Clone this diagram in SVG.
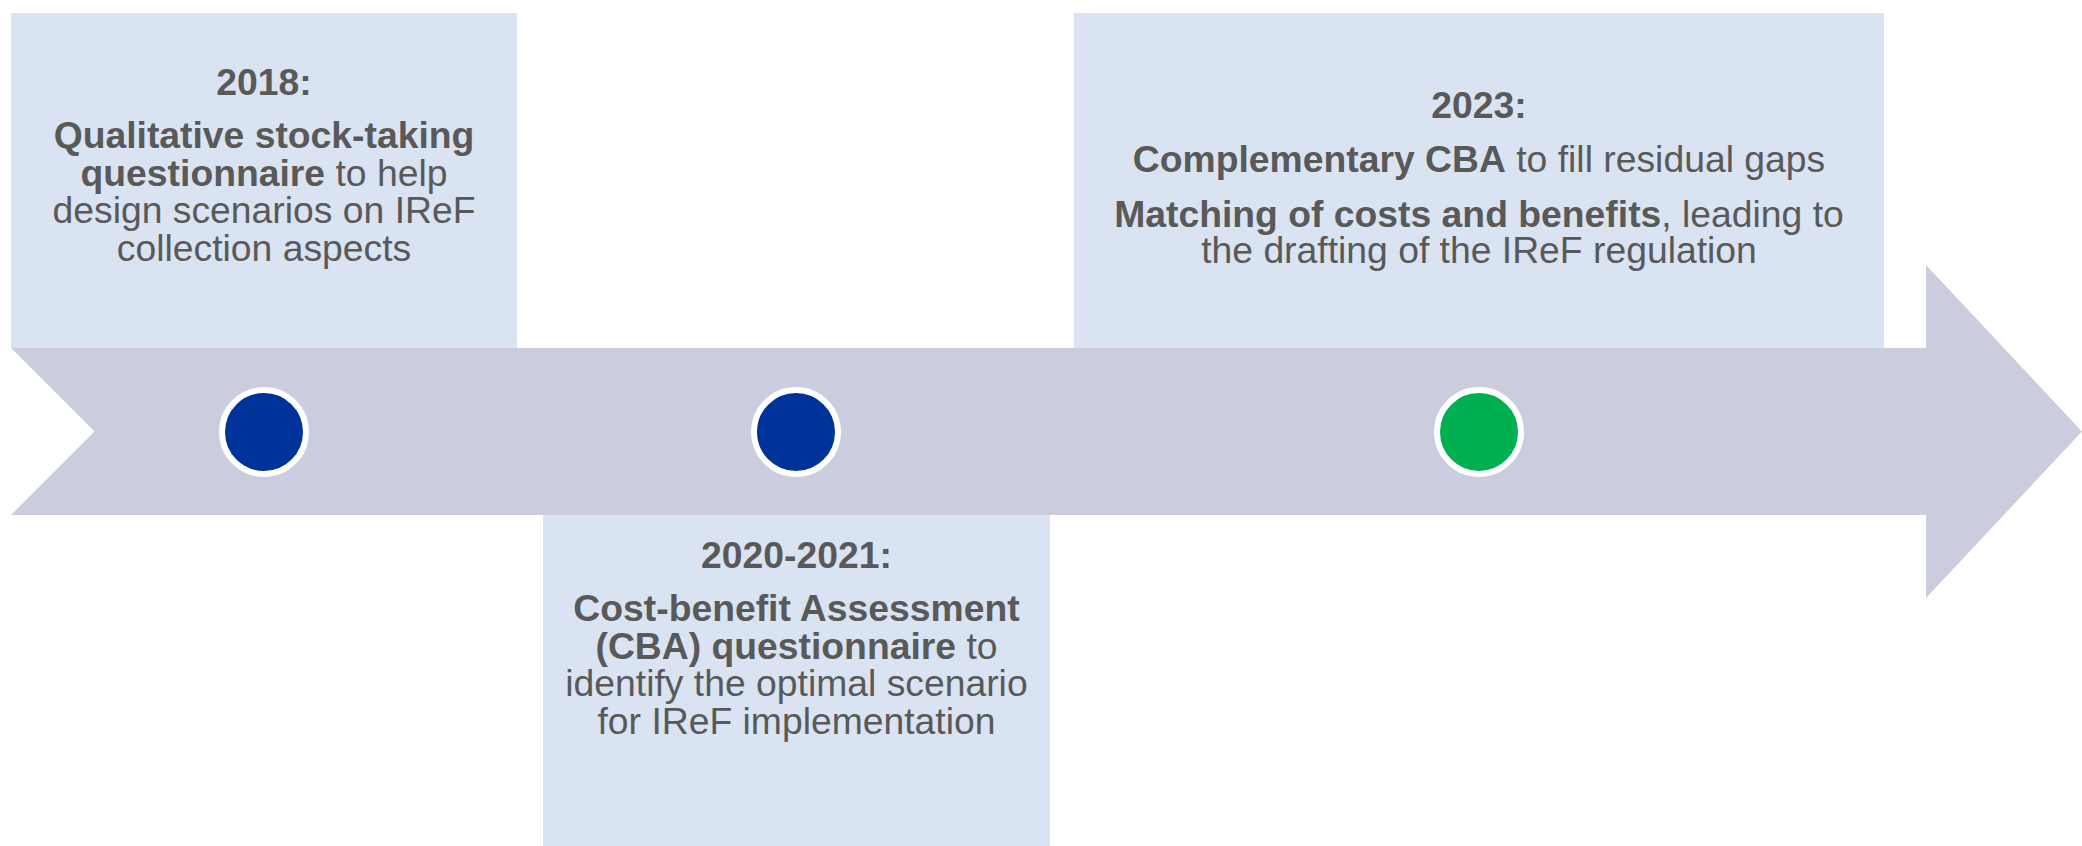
<svg xmlns="http://www.w3.org/2000/svg" width="2082" height="846" viewBox="0 0 2082 846">
  <style>
    .box { fill: #D9E3F1; }
    .lbl { font-family: "Liberation Sans", Arial, sans-serif; font-size: 37.3px; fill: #595959; text-anchor: middle; }
    .b { font-weight: bold; }
    .dot { stroke: #FFFFFF; stroke-width: 6; }
    .blue { fill: #003399; }
    .green { fill: #00B050; }
  </style>

  <rect width="2082" height="846" fill="#FFFFFF"/>

  <!-- timeline arrow with notched tail -->
  <g id="timeline">
    <path d="M11,348 H1926 V265 L2082,431.5 L1926,598 V515 H11 L94.5,431.5 Z" fill="#CBCCDE"/>
  </g>

  <!-- 2018 milestone -->
  <g id="node-2018">
    <rect class="box" x="11" y="13" width="506" height="335"/>
    <text class="lbl" x="264" y="95"><tspan class="b">2018:</tspan></text>
    <text class="lbl" x="264" y="148"><tspan class="b">Qualitative stock-taking</tspan></text>
    <text class="lbl" x="264" y="185.5"><tspan class="b">questionnaire</tspan> to help</text>
    <text class="lbl" x="264" y="223">design scenarios on IReF</text>
    <text class="lbl" x="264" y="260.5">collection aspects</text>
  </g>

  <!-- 2020-2021 milestone -->
  <g id="node-2020-2021">
    <rect class="box" x="543" y="515" width="507" height="331"/>
    <text class="lbl" x="796.5" y="568"><tspan class="b">2020-2021:</tspan></text>
    <text class="lbl" x="796.5" y="621"><tspan class="b">Cost-benefit Assessment</tspan></text>
    <text class="lbl" x="796.5" y="658.5"><tspan class="b">(CBA) questionnaire</tspan> to</text>
    <text class="lbl" x="796.5" y="696">identify the optimal scenario</text>
    <text class="lbl" x="796.5" y="733.5">for IReF implementation</text>
  </g>

  <!-- 2023 milestone -->
  <g id="node-2023">
    <rect class="box" x="1074" y="13" width="810" height="335"/>
    <text class="lbl" x="1479" y="118"><tspan class="b">2023:</tspan></text>
    <text class="lbl" x="1479" y="172"><tspan class="b">Complementary CBA</tspan> to fill residual gaps</text>
    <text class="lbl" x="1479" y="226.5"><tspan class="b">Matching of costs and benefits</tspan>, leading to</text>
    <text class="lbl" x="1479" y="263">the drafting of the IReF regulation</text>
  </g>

  <!-- milestone markers on the timeline -->
  <g id="marker-2018"><circle class="dot blue" cx="264" cy="432" r="42"/></g>
  <g id="marker-2020-2021"><circle class="dot blue" cx="796" cy="432" r="42"/></g>
  <g id="marker-2023"><circle class="dot green" cx="1479" cy="432" r="42"/></g>
</svg>
